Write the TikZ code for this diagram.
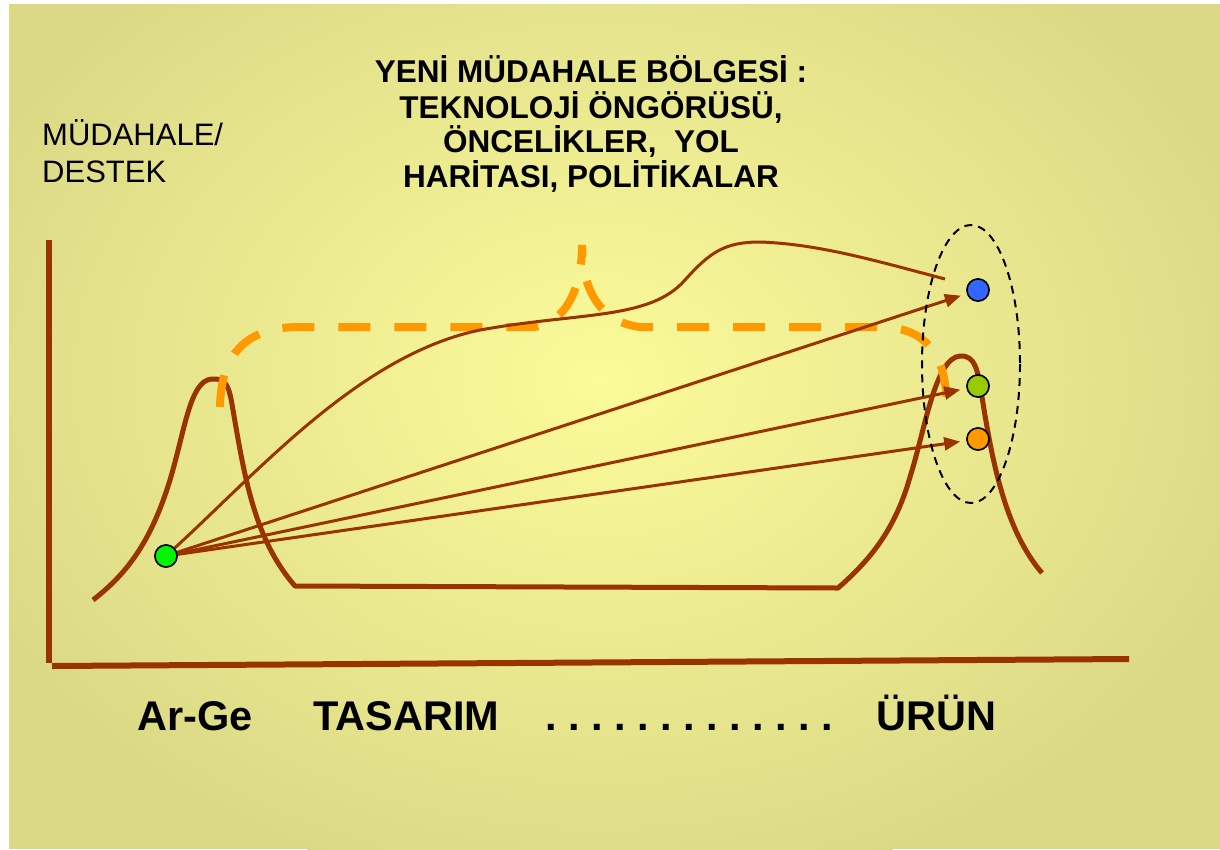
\documentclass[tikz,border=0pt]{standalone}
\usepackage{fontspec}
\setmainfont{Liberation Sans}
\usetikzlibrary{arrows.meta}
\definecolor{brn}{RGB}{153,51,0}
\definecolor{org}{RGB}{255,153,0}
\definecolor{bgin}{RGB}{251,251,154}
\definecolor{bgout}{RGB}{220,217,134}
\definecolor{dblue}{RGB}{51,102,255}
\definecolor{dlime}{RGB}{153,204,0}
\definecolor{dgreen}{RGB}{0,245,0}
\tikzset{
  axisline/.style={draw=brn,line width=6pt},
  thickcurve/.style={draw=brn,line width=5pt},
  thincurve/.style={draw=brn,line width=3pt},
  arr/.style={thincurve,-{Triangle[length=16pt,width=13pt]},shorten >=7pt},
  orangedash/.style={draw=org,line width=8pt,dash pattern=on 32pt off 24pt},
  ovaldash/.style={draw=black,line width=2pt,dash pattern=on 8pt off 6pt},
  dotnode/.style={circle,draw=black,line width=1.5pt,minimum size=22pt,inner sep=0pt,outer sep=0pt},
  lefttxt/.style={inner sep=0pt,anchor=base west,font=\fontsize{31}{37}\selectfont},
  titletxt/.style={inner sep=0pt,anchor=base,font=\fontsize{31.5}{35}\selectfont\bfseries},
  bottxt/.style={inner sep=0pt,anchor=base west,font=\fontsize{41.5}{48}\selectfont\bfseries}
}
\frenchspacing
\begin{document}
\begin{tikzpicture}[x=1pt,y=-1pt]
\useasboundingbox (0,0) rectangle (1220,849);
\fill[white] (0,0) rectangle (1220,849);
\fill[bgout] (9,4) rectangle (1220,849);
\begin{scope}
  \clip (9,4) rectangle (1220,849);
  \shade[inner color=bgin,outer color=bgout] (600,380) ellipse [x radius=680,y radius=520];
\end{scope}
% axes
\draw[axisline] (49,240) -- (49,663);
\draw[axisline] (52,666) -- (1129,659);
% thick brown curve
\draw[thickcurve,line join=round] (93,600) .. controls (125,575) and (150,545) .. (170,480)
  .. controls (185,430) and (190,380) .. (212,379)
  .. controls (226,378) and (229,385) .. (233,410)
  .. controls (245,480) and (255,540) .. (295,586)
  -- (838,588)
  .. controls (870,560) and (895,530) .. (910,477)
  .. controls (925,430) and (935,358) .. (960,356)
  .. controls (975,355) and (978,370) .. (982,397)
  .. controls (992,460) and (1005,530) .. (1042,573);
% orange dashed region
\draw[orangedash] (220,407) .. controls (221,350) and (250,327) .. (300,327)
  -- (535,327) .. controls (565,322) and (582,290) .. (582,245)
  .. controls (582,290) and (600,322) .. (640,327)
  -- (880,327) .. controls (930,327) and (947,360) .. (947,410);
% dots
\node[dotnode,fill=dgreen] (g0) at (166,556) {};
\node[dotnode,fill=dblue] (blue) at (978,290) {};
\node[dotnode,fill=dlime] (lime) at (978,386) {};
\node[dotnode,fill=org] (orange) at (978,439) {};
\coordinate (cend) at (945,279);
% thin curve and arrows
\draw[thincurve] (g0) .. controls (260,470) and (360,355) .. (480,330)
  .. controls (580,312) and (650,320) .. (685,280)
  .. controls (710,252) and (725,242) .. (760,242)
  .. controls (820,244) and (880,262) .. (cend);
\draw[arr] (g0) -- (blue);
\draw[arr] (g0) -- (lime);
\draw[arr] (g0) -- (orange);
% dashed oval
\draw[ovaldash] (971,364) ellipse [x radius=49,y radius=139];
% redraw dots on top
\node[dotnode,fill=dblue] (blue2) at (978,290) {};
\node[dotnode,fill=dlime] (lime2) at (978,386) {};
\node[dotnode,fill=org] (orange2) at (978,439) {};
\node[dotnode,fill=dgreen] (g02) at (166,556) {};
% texts
\node[lefttxt] (l1) at (42,145) {MÜDAHALE/};
\node[lefttxt] (l2) at (42,182) {DESTEK};
\node[titletxt] (t1) at (591,82) {YENİ MÜDAHALE BÖLGESİ :};
\node[titletxt] (t2) at (591,118) {TEKNOLOJİ ÖNGÖRÜSÜ,};
\node[titletxt] (t3) at (591,152) {ÖNCELİKLER,\ \ YOL};
\node[titletxt] (t4) at (591,187) {HARİTASI, POLİTİKALAR};
\node[bottxt] (b1) at (137,730) {Ar-Ge};
\node[bottxt] (b2) at (313,730) {TASARIM};
\node[bottxt] (b3) at (545,730) {. . . . . . . . . . . . .};
\node[bottxt] (b4) at (876,730) {ÜRÜN};
\end{tikzpicture}
\end{document}
